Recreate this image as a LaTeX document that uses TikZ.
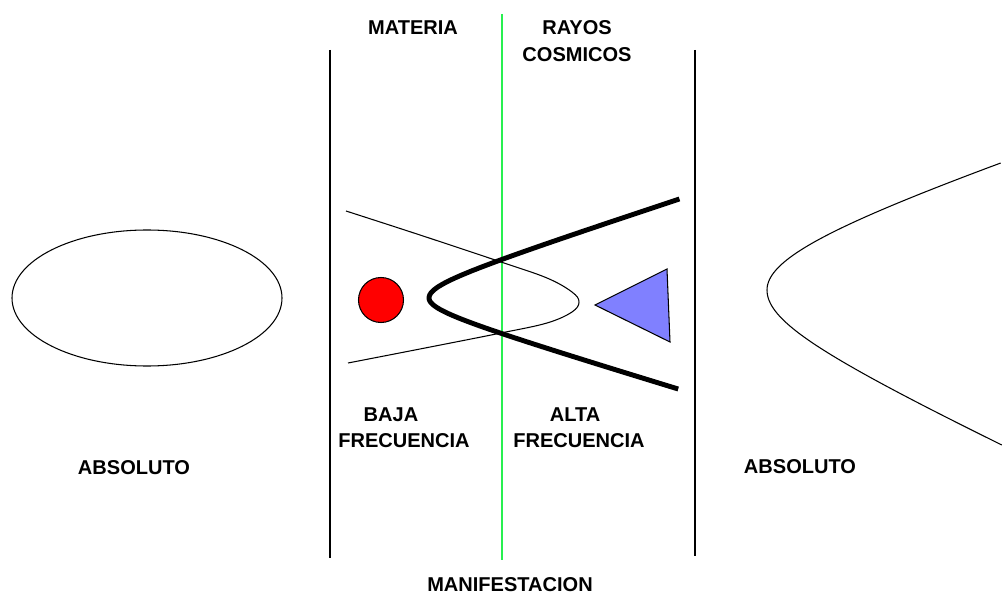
\documentclass[tikz,border=0pt]{standalone}
\usepackage{fontspec}
\setmainfont{Liberation Sans}
\definecolor{verde}{RGB}{40,240,80}
\definecolor{azul}{RGB}{128,128,255}
\tikzset{
  etiqueta/.style={inner sep=0pt, font=\bfseries\fontsize{11.4}{13.7}\selectfont},
  linea/.style={line width=1pt},
  fina/.style={line width=0.6pt},
}
\begin{document}
\begin{tikzpicture}[x=0.02cm, y=-0.02cm]

  % Marco (1 unidad = 1 pixel)
  \useasboundingbox (0,0) rectangle (1002,598);

  % Lineas verticales
  \draw[linea] (330,50) -- (330,558);
  \draw[linea] (695,50) -- (695,556);
  \draw[verde, line width=1.2pt] (502,14) -- (502,560);

  % Absoluto izquierdo (elipse)
  \draw[fina] (147,298) ellipse (135 and 68);

  % Absoluto derecho (hiperbola abierta a la derecha)
  \draw[fina, samples=60, variable=\t]
    plot[domain=-127:0] ({767+200*(sqrt(1+(\t/66)^2)-1)}, {290+\t})
    -- plot[domain=0:155] ({767+120*(sqrt(1+(\t/55.7)^2)-1)}, {290+\t});

  % Curva fina
  \draw[fina] plot[smooth, tension=0.6] coordinates {
    (346,211) (420,235) (501,262) (547,278) (572,292) (579,302)
    (572,312) (547,323) (501,333) (420,349) (348,363)};

  % Curva gruesa
  \draw[line width=2.8pt, samples=60, variable=\t]
    plot[domain=-99:0] ({429+60*(sqrt(1+(\t/19.5)^2)-1)}, {298+\t})
    -- plot[domain=0:91] ({429+60*(sqrt(1+(\t/18)^2)-1)}, {298+\t});

  % Circulo rojo y triangulo azul
  \draw[fill=red, fina] (381,300) circle (22.5);
  \draw[fill=azul, fina] (595,305) -- (667,269) -- (670,342) -- cycle;

  % Textos
  \node[etiqueta] (materia) at (413,28) {MATERIA};
  \node[etiqueta] (rayos) at (577,28) {RAYOS};
  \node[etiqueta] (cosmicos) at (577,55) {COSMICOS};
  \node[etiqueta] (baja) at (391,415) {BAJA};
  \node[etiqueta] (frecbaja) at (404,441) {FRECUENCIA};
  \node[etiqueta] (alta) at (575,415) {ALTA};
  \node[etiqueta] (frecalta) at (579,441) {FRECUENCIA};
  \node[etiqueta] (absizq) at (134,468) {ABSOLUTO};
  \node[etiqueta] (absder) at (800,467) {ABSOLUTO};
  \node[etiqueta] (manif) at (510,585) {MANIFESTACION};

\end{tikzpicture}
\end{document}
